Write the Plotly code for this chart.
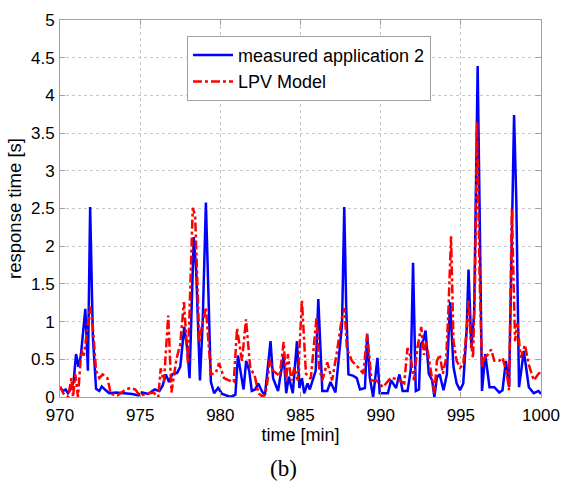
import plotly.graph_objects as go

# measured application 2 (blue)
t_meas = [970.0, 970.2, 970.35, 970.5, 970.7, 970.85, 971.0, 971.15, 971.3, 971.45, 971.58, 971.74, 971.88,
          972.05, 972.25, 972.45, 972.6, 972.8, 973.07, 973.5, 974.0, 974.5, 974.9, 975.1, 975.5, 975.9,
          976.2, 976.4, 976.6, 976.8, 977.0, 977.3, 977.5, 977.75, 977.95, 978.08, 978.34, 978.49, 978.73,
          978.9, 979.1, 979.25, 979.41, 979.61, 979.86, 980.12, 980.64, 980.94, 981.1, 981.29, 981.45,
          981.61, 981.8, 981.96, 982.17, 982.37, 982.58, 982.78, 983.13, 983.29, 983.6, 983.95, 984.11,
          984.27, 984.52, 984.78, 984.93, 985.09, 985.23, 985.44, 985.58, 985.95, 986.11, 986.36, 986.67,
          986.87, 987.18, 987.38, 987.59, 987.73, 987.85, 987.99, 988.3, 988.51, 988.71, 989.02, 989.16,
          989.32, 989.53, 989.8, 989.94, 990.45, 990.65, 990.96, 991.17, 991.37, 991.68, 991.88, 992.02,
          992.19, 992.39, 992.49, 992.66, 992.8, 993.0, 993.21, 993.35, 993.51, 993.68, 993.92, 994.13,
          994.33, 994.54, 994.74, 994.95, 995.15, 995.36, 995.48, 995.66, 995.83, 995.93, 996.05, 996.17,
          996.32, 996.52, 996.79, 997.09, 997.4, 997.6, 997.81, 998.01, 998.18, 998.32, 998.46, 998.63,
          998.93, 999.24, 999.55, 999.85, 1000.0]
v_meas = [0.13, 0.08, 0.1, 0.05, 0.12, 0.2, 0.57, 0.4, 0.55, 0.9, 1.17, 0.35, 2.52,
          0.8, 0.11, 0.08, 0.14, 0.1, 0.05, 0.06, 0.05, 0.04, 0.02, 0.06, 0.04, 0.1,
          0.08, 0.15, 0.3, 0.2, 0.3, 0.32, 0.4, 0.93, 0.62, 0.25, 2.12, 1.69, 0.22,
          1.0, 2.58, 1.3, 0.2, 0.05, 0.12, 0.04, 0.0, 0.03, 0.55, 0.3, 0.1,
          0.48, 0.35, 0.08, 0.1, 0.18, 0.08, 0.02, 0.74, 0.25, 0.08, 0.55, 0.05,
          0.27, 0.05, 0.74, 0.12, 0.25, 0.05, 0.18, 0.1, 0.35, 1.3, 0.08, 0.08,
          0.2, 0.06, 0.5, 0.96, 2.52, 1.2, 0.3, 0.28, 0.25, 0.1, 0.12, 0.83,
          0.26, 0.0, 0.52, 0.05, 0.05, 0.22, 0.12, 0.3, 0.08, 0.08, 0.37, 1.78,
          0.08, 0.1, 0.7, 0.75, 0.88, 0.31, 0.22, 0.0, 0.26, 0.3, 0.09, 0.3,
          1.26, 0.4, 0.18, 0.09, 0.18, 0.88, 1.69, 0.65, 1.1, 2.4, 4.39, 2.5,
          0.08, 0.57, 0.13, 0.13, 0.06, 0.09, 0.48, 0.13, 2.2, 3.74, 2.6, 0.13,
          0.61, 0.13, 0.05, 0.08, 0.04]

# LPV Model (red)
t_lpv = [970.0, 970.2, 970.51, 970.71, 970.81, 970.96, 971.12, 971.33, 971.49, 971.63, 971.88, 972.04,
         972.25, 972.45, 972.66, 972.96, 973.17, 973.58, 974.09, 974.39, 974.7, 974.97, 975.42, 975.83,
         976.13, 976.28, 976.48, 976.75, 976.95, 977.26, 977.5, 977.73, 977.98, 978.28, 978.43, 978.69,
         978.8, 979.1, 979.41, 979.72, 979.92, 980.23, 980.53, 980.84, 981.04, 981.35, 981.6, 981.86,
         982.17, 982.37, 982.68, 982.89, 983.09, 983.29, 983.7, 983.95, 984.11, 984.21, 984.42, 984.62,
         984.83, 985.09, 985.34, 985.64, 986.0, 986.16, 986.36, 986.67, 986.97, 987.28, 987.59, 987.75,
         987.89, 988.2, 988.61, 988.92, 989.16, 989.43, 989.73, 990.14, 990.65, 991.17, 991.47, 991.67,
         991.88, 992.08, 992.29, 992.53, 992.7, 992.84, 993.0, 993.15, 993.35, 993.51, 993.68, 993.88,
         994.09, 994.23, 994.39, 994.54, 994.74, 994.95, 995.15, 995.36, 995.48, 995.62, 995.76, 995.89,
         996.01, 996.17, 996.32, 996.48, 996.68, 996.89, 997.09, 997.4, 997.6, 997.87, 998.01, 998.18,
         998.38, 998.53, 998.73, 999.0, 999.24, 999.55, 999.85, 1000.0]
v_lpv = [0.14, 0.05, 0.0, 0.25, 0.0, 0.3, 0.0, 0.62, 0.55, 0.8, 1.2, 0.95,
         0.35, 0.25, 0.3, 0.25, 0.04, 0.02, 0.1, 0.12, 0.1, 0.02, 0.04, 0.06,
         0.0, 0.38, 0.2, 1.08, 0.06, 0.5, 0.7, 1.26, 0.45, 2.51, 2.4, 0.73,
         0.88, 1.19, 0.3, 0.32, 0.45, 0.25, 0.22, 0.2, 0.91, 0.48, 1.03, 0.4,
         0.26, 0.05, 0.0, 0.12, 0.5, 0.35, 0.28, 0.73, 0.2, 0.57, 0.22, 0.39,
         0.22, 1.28, 0.31, 0.24, 1.06, 0.39, 0.22, 0.46, 0.22, 0.61, 1.06, 1.18,
         0.65, 0.48, 0.39, 0.31, 0.84, 0.22, 0.22, 0.13, 0.26, 0.22, 0.18, 0.65,
         0.52, 0.22, 0.65, 0.93, 0.56, 0.74, 0.52, 0.31, 0.05, 0.48, 0.56, 0.31,
         0.52, 1.17, 2.13, 0.74, 0.48, 0.39, 0.43, 0.87, 1.3, 0.74, 0.52, 1.6,
         3.65, 1.6, 0.39, 0.52, 0.56, 0.63, 0.48, 0.48, 0.52, 0.31, 0.09, 2.49,
         0.74, 0.98, 0.52, 0.69, 0.43, 0.22, 0.31, 0.33]

x_ticks = [970, 975, 980, 985, 990, 995, 1000]
y_ticks = [0, 0.5, 1, 1.5, 2, 2.5, 3, 3.5, 4, 4.5, 5]
y_tick_text = ["0", "0.5", "1", "1.5", "2", "2.5", "3", "3.5", "4", "4.5", "5"]

FONT = "Liberation Sans, Arial, sans-serif"

fig = go.Figure()
fig.add_trace(go.Scatter(x=t_meas, y=v_meas, mode="lines", name="measured application 2",
                         line=dict(color="#0000FF", width=2.5)))
fig.add_trace(go.Scatter(x=t_lpv, y=v_lpv, mode="lines", name="LPV Model",
                         line=dict(color="#FF0000", width=2.5, dash="dashdot")))

axis_common = dict(showline=True, linecolor="#a0a0a0", linewidth=1, mirror="ticks",
                   ticks="inside", ticklen=5, tickcolor="#a0a0a0",
                   showgrid=True, gridcolor="#c8c8c8", griddash="dot", gridwidth=1,
                   zeroline=False, tickfont=dict(family=FONT, size=17, color="black"))

fig.update_xaxes(range=[970, 1000], tickvals=x_ticks, ticklabelstandoff=3, **axis_common,
                 title=dict(text="time [min]", font=dict(family=FONT, size=18, color="black"), standoff=1))
fig.update_yaxes(range=[0, 5], tickvals=y_ticks, ticktext=y_tick_text, ticklabelstandoff=1, **axis_common,
                 title=dict(text="response time [s]", font=dict(family=FONT, size=18.5, color="black"), standoff=4))

fig.add_annotation(text="(b)", xref="paper", yref="paper", x=0.465, y=-0.19,
                   showarrow=False, font=dict(family="Liberation Serif, Times New Roman, serif", size=23, color="black"),
                   xanchor="center", yanchor="middle")

fig.update_layout(
    width=571, height=485,
    margin=dict(l=60, r=22, t=11, b=88),
    paper_bgcolor="white", plot_bgcolor="white",
    showlegend=True,
    legend=dict(x=0.264, y=0.958, xanchor="left", yanchor="top",
                bgcolor="white", bordercolor="#a0a0a0", borderwidth=1,
                font=dict(family=FONT, size=18, color="black"),
                tracegroupgap=0, itemwidth=40),
)

fig.write_html("out.html")
